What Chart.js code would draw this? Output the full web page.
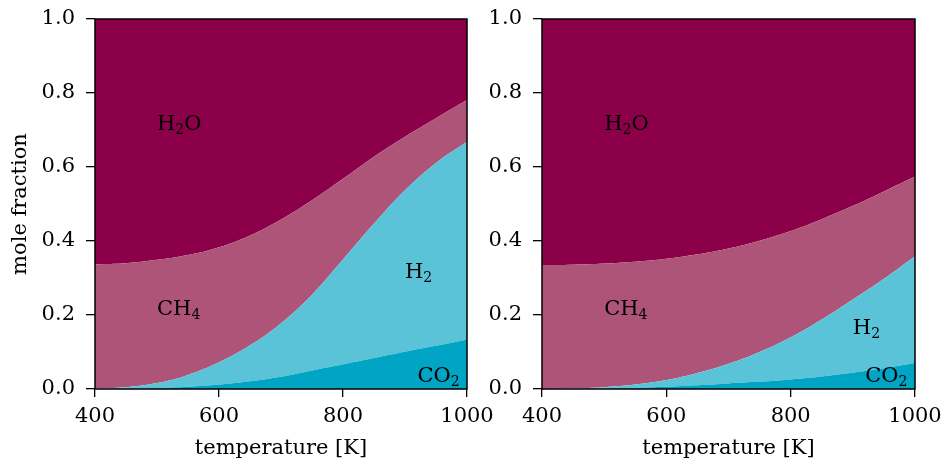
<!DOCTYPE html>
<html lang="en">
  <head>
    <meta charset="utf-8" />
    <title>Mole fraction vs temperature</title>
    <script src="https://cdn.jsdelivr.net/npm/chart.js@4.4.1/dist/chart.umd.min.js"></script>
    <style>
      body { margin: 0; background: #fff; }
      #left { position: absolute; left: 0; top: 0; }
      #right { position: absolute; left: 490px; top: 0; }
    </style>
  </head>
  <body>
    <canvas id="left" width="500" height="464"></canvas>
    <canvas id="right" width="454" height="464"></canvas>
    <script>
      // temperature grid [K]
      const temperatures = [400, 450, 500, 550, 600, 650, 700, 750, 800, 850, 900, 950, 1000];

      // left panel, mole fraction of each species (stacked bottom to top)
      const co2Left = [0, 0.001, 0.003, 0.006, 0.012, 0.021, 0.033, 0.05, 0.067, 0.084, 0.101, 0.117, 0.134];
      const h2Left = [0.001, 0.004, 0.013, 0.032, 0.06, 0.097, 0.145, 0.205, 0.283, 0.363, 0.436, 0.494, 0.534];
      const ch4Left = [0.336, 0.335, 0.333, 0.324, 0.311, 0.297, 0.28, 0.255, 0.218, 0.181, 0.145, 0.121, 0.113];
      const h2oLeft = [0.663, 0.66, 0.651, 0.638, 0.617, 0.585, 0.542, 0.49, 0.432, 0.372, 0.318, 0.268, 0.219];

      // right panel
      const co2Right = [0, 0.0005, 0.001, 0.003, 0.006, 0.01, 0.015, 0.02, 0.026, 0.034, 0.044, 0.056, 0.07];
      const h2Right = [0, 0.0015, 0.004, 0.009, 0.018, 0.033, 0.053, 0.08, 0.114, 0.154, 0.198, 0.242, 0.289];
      const ch4Right = [0.335, 0.334, 0.334, 0.332, 0.328, 0.321, 0.312, 0.301, 0.287, 0.271, 0.253, 0.236, 0.215];
      const h2oRight = [0.665, 0.664, 0.661, 0.656, 0.648, 0.636, 0.62, 0.599, 0.573, 0.541, 0.505, 0.466, 0.426];

      const xTicks = [400, 600, 800, 1000];
      const yTicks = [0, 0.2, 0.4, 0.6, 0.8, 1.0];

      // species labels: [temperature, fraction, text segments]  (1 = subscript)
      const labelsLeft = [
        [500, 0.7, [["H", 0], ["2", 1], ["O", 0]]],
        [500, 0.2, [["CH", 0], ["4", 1]]],
        [900, 0.3, [["H", 0], ["2", 1]]],
        [920, 0.02, [["CO", 0], ["2", 1]]],
      ];
      const labelsRight = [
        [500, 0.7, [["H", 0], ["2", 1], ["O", 0]]],
        [500, 0.2, [["CH", 0], ["4", 1]]],
        [900, 0.15, [["H", 0], ["2", 1]]],
        [920, 0.02, [["CO", 0], ["2", 1]]],
      ];

      const colors = {
        co2: "#00a5c5",
        h2: "#5ac3d7",
        ch4: "#ad5478",
        h2o: "#8b0049",
      };

      const FONT = "'DejaVu Serif', serif";

      const framePlugin = {
        id: "frame",
        afterDatasetsDraw(chart) {
          const { ctx, chartArea: a } = chart;
          ctx.save();
          ctx.strokeStyle = "#000";
          ctx.lineWidth = 1.5;
          ctx.strokeRect(a.left, a.top, a.right - a.left, a.bottom - a.top);
          ctx.restore();
        },
      };

      const speciesLabels = {
        id: "speciesLabels",
        afterDatasetsDraw(chart, args, opts) {
          const { ctx } = chart;
          const xs = chart.scales.x;
          const ys = chart.scales.y;
          ctx.save();
          ctx.fillStyle = "#000";
          ctx.textBaseline = "alphabetic";
          ctx.textAlign = "left";
          for (const [t, f, parts] of opts.items) {
            let px = xs.getPixelForValue(t);
            const py = ys.getPixelForValue(f);
            for (const [s, sub] of parts) {
              ctx.font = sub ? "14px " + FONT : "21px " + FONT;
              ctx.fillText(s, px, sub ? py + 4 : py);
              px += ctx.measureText(s).width;
            }
          }
          ctx.restore();
        },
      };

      function series(label, data, color, fill) {
        return {
          label: label,
          data: temperatures.map((t, i) => ({ x: t, y: data[i] })),
          backgroundColor: color,
          borderWidth: 0,
          pointRadius: 0,
          fill: fill,
          tension: 0.4,
        };
      }

      function makeChart(id, data, labels, yWidth, padRight, showYTitle) {
        const tickFont = { family: FONT, size: 21 };
        return new Chart(document.getElementById(id), {
          type: "line",
          data: {
            datasets: [
              series("CO2", data[0], colors.co2, "origin"),
              series("H2", data[1], colors.h2, "-1"),
              series("CH4", data[2], colors.ch4, "-1"),
              series("H2O", data[3], colors.h2o, "-1"),
            ],
          },
          options: {
            responsive: false,
            animation: false,
            layout: { padding: { top: 19, right: padRight, left: 0, bottom: 0 } },
            plugins: {
              legend: { display: false },
              tooltip: { enabled: false },
              speciesLabels: { items: labels },
            },
            scales: {
              x: {
                type: "linear",
                min: 400,
                max: 1000,
                afterBuildTicks: (s) => { s.ticks = xTicks.map((v) => ({ value: v })); },
                ticks: { font: tickFont, color: "#000", padding: 7, maxRotation: 0, callback: (v) => v },
                grid: { drawOnChartArea: false, tickLength: 8, color: "#000", lineWidth: 1.3 },
                border: { display: false },
                title: {
                  display: true,
                  text: "temperature [K]",
                  font: { family: FONT, size: 21 },
                  color: "#000",
                  padding: { top: 0, bottom: 3 },
                },
                afterFit: (s) => { s.height = 75; s.paddingLeft = 0; s.paddingRight = 0; },
              },
              y: {
                type: "linear",
                stacked: true,
                min: 0,
                max: 1,
                afterBuildTicks: (s) => { s.ticks = yTicks.map((v) => ({ value: v })); },
                ticks: { font: tickFont, color: "#000", padding: 11, callback: (v) => v.toFixed(1) },
                grid: { drawOnChartArea: false, tickLength: 9, color: "#000", lineWidth: 1.3 },
                border: { display: false },
                title: {
                  display: showYTitle,
                  text: "mole fraction",
                  font: { family: FONT, size: 21 },
                  color: "#000",
                  padding: { top: 8, bottom: 0 },
                },
                afterFit: (s) => { s.width = yWidth; s.paddingTop = 0; s.paddingBottom = 0; },
              },
            },
          },
          plugins: [framePlugin, speciesLabels],
        });
      }

      makeChart("left", [co2Left, h2Left, ch4Left, h2oLeft], labelsLeft, 95, 33, true);
      makeChart("right", [co2Right, h2Right, ch4Right, h2oRight], labelsRight, 52, 29, false);
    </script>
  </body>
</html>
